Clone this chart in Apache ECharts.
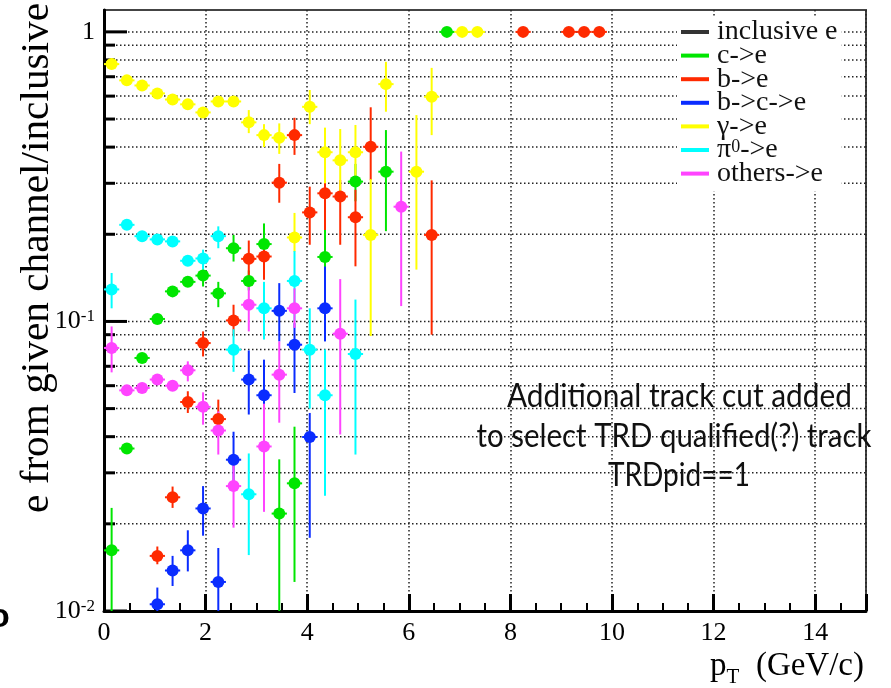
<!DOCTYPE html>
<html><head><meta charset="utf-8">
<script src="https://cdn.jsdelivr.net/npm/echarts@6/dist/echarts.min.js"></script>
<style>html,body{margin:0;padding:0;background:#fff}#c{width:891px;height:688px}</style>
</head><body><div id="c"></div><script>
// ---- data: [pT bin centre (GeV/c), ratio, lower error bound, upper error bound]
const ptHalfWidth = 0.15;
const xMin = 0, xMax = 15, yMin = 0.01, yMax = 1.19;
const yTickMajor = [0.01, 0.1, 1];
const yTickMinor = [0.02,0.03,0.04,0.05,0.06,0.07,0.08,0.09,0.2,0.3,0.4,0.5,0.6,0.7,0.8,0.9];

const cToE = [
 [0.15,0.0162,0.005,0.0227],[0.45,0.0364,0.0364,0.0364],[0.75,0.0748,0.0748,0.0748],
 [1.05,0.102,0.102,0.102],[1.35,0.127,0.127,0.127],[1.65,0.137,0.137,0.137],
 [1.95,0.144,0.132,0.151],[2.25,0.125,0.112,0.137],[2.55,0.179,0.161,0.199],
 [2.85,0.138,0.128,0.150],[3.15,0.185,0.160,0.218],[3.45,0.0217,0.005,0.0334],
 [3.75,0.0276,0.0126,0.0433],[4.35,0.167,0.13,0.21],[4.95,0.304,0.26,0.35],
 [5.55,0.329,0.205,0.458],[6.75,1,1,1]
];
const bToE = [
 [1.05,0.0155,0.0145,0.0167],[1.35,0.0247,0.0227,0.0269],[1.65,0.0527,0.0483,0.0574],
 [1.95,0.0842,0.0757,0.0924],[2.25,0.046,0.0437,0.0537],[2.55,0.1008,0.0888,0.1142],
 [2.85,0.1645,0.1393,0.1903],[3.15,0.1676,0.1393,0.1887],[3.45,0.3015,0.257,0.350],
 [3.75,0.440,0.376,0.505],[4.05,0.238,0.184,0.292],[4.35,0.277,0.207,0.304],
 [4.65,0.270,0.184,0.308],[4.95,0.229,0.155,0.285],[5.25,0.401,0.308,0.549],
 [6.45,0.199,0.090,0.307],[8.25,1,1,1],[9.15,1,1,1],[9.45,1,1,1],[9.75,1,1,1]
];
const bcToE = [
 [1.05,0.01055,0.008,0.01205],[1.35,0.0138,0.0122,0.0155],[1.65,0.0162,0.0137,0.0190],
 [1.95,0.0226,0.0182,0.0270],[2.25,0.0126,0.008,0.0165],[2.55,0.0333,0.0274,0.0416],
 [2.85,0.063,0.0477,0.0794],[3.15,0.0556,0.044,0.0738],[3.45,0.1088,0.0853,0.1356],
 [3.75,0.0831,0.0566,0.0987],[4.05,0.0399,0.0179,0.0483],[4.35,0.111,0.0853,0.1547]
];
const gammaToE = [
 [0.15,0.774,0.76,0.79],[0.45,0.680,0.67,0.69],[0.75,0.653,0.643,0.663],
 [1.05,0.613,0.603,0.623],[1.35,0.584,0.574,0.594],[1.65,0.562,0.552,0.572],
 [1.95,0.527,0.507,0.549],[2.25,0.575,0.565,0.585],[2.55,0.575,0.565,0.585],
 [2.85,0.487,0.447,0.537],[3.15,0.440,0.400,0.480],[3.45,0.431,0.379,0.483],
 [3.75,0.195,0.174,0.237],[4.05,0.551,0.48,0.63],[4.35,0.384,0.30,0.467],
 [4.65,0.360,0.263,0.462],[4.95,0.384,0.30,0.477],[5.25,0.199,0.089,0.31],
 [5.55,0.660,0.530,0.788],[6.15,0.329,0.151,0.516],[6.45,0.597,0.440,0.751],
 [7.05,1,1,1],[7.35,1,1,1]
];
const pi0ToE = [
 [0.15,0.129,0.111,0.147],[0.45,0.2156,0.21,0.22],[0.75,0.197,0.197,0.197],
 [1.05,0.192,0.192,0.192],[1.35,0.189,0.189,0.189],[1.65,0.162,0.162,0.162],
 [1.95,0.165,0.151,0.177],[2.25,0.197,0.179,0.213],[2.55,0.0799,0.067,0.094],
 [2.85,0.0253,0.0156,0.035],[3.15,0.111,0.0866,0.137],[3.75,0.138,0.10,0.175],
 [4.05,0.0799,0.05,0.111],[4.35,0.0556,0.025,0.08],[4.95,0.0772,0.0347,0.119]
];
const othersToE = [
 [0.15,0.081,0.0667,0.0961],[0.45,0.0578,0.0578,0.0578],[0.75,0.0589,0.0589,0.0589],
 [1.05,0.063,0.063,0.063],[1.35,0.060,0.060,0.060],[1.65,0.0678,0.0621,0.0728],
 [1.95,0.0507,0.044,0.0569],[2.25,0.042,0.0347,0.0489],[2.55,0.027,0.0194,0.0342],
 [2.85,0.1142,0.0924,0.1412],[3.15,0.037,0.022,0.052],[3.45,0.0655,0.0447,0.0853],
 [3.75,0.111,0.095,0.13],[4.65,0.0907,0.0407,0.140],[5.85,0.249,0.113,0.386]
];

const legendNames = ['inclusive e','c->e','b->e','b->c->e','γ->e','π⁰->e','others->e'];
const legendColors = ['#000000','#00e600','#ff2a00','#0a2cff','#ffff00','#00ffff','#ff44ff'];
const channelData = [null, cToE, bToE, bcToE, gammaToE, pi0ToE, othersToE];

const annotationLines = ['Additional track cut added','to select TRD qualified(?) track','TRDpid==1'];

const SERIF = "'Liberation Serif', 'Times New Roman', Tinos, serif";

// ---- helpers
function fitScale(text, font, target){
  const ctx = document.createElement('canvas').getContext('2d');
  ctx.font = font;
  const w = ctx.measureText(text).width;
  return w > 0 ? target / w : 1;
}

const chart = echarts.init(document.getElementById('c'), null, {renderer:'canvas'});

const series = [];
// grid lines + y ticks
series.push({
  type:'custom', name:'_grid', silent:true, z:1,
  data: yTickMinor.concat(yTickMajor).map(v => [xMin, v]),
  encode:{x:0, y:1},
  renderItem(params, api){
    const v = api.value(1);
    const a = api.coord([xMin, v]), b = api.coord([xMax, v]);
    const major = yTickMajor.indexOf(v) >= 0;
    const ch = [];
    if (v > yMin) ch.push({type:'line', shape:{x1:a[0], y1:a[1], x2:b[0], y2:b[1]},
      style:{stroke:'#222', lineWidth:1.5, lineDash:[1.5,2.5]}});
    ch.push({type:'line', shape:{x1:a[0], y1:a[1], x2:a[0] + (major ? 23 : 11), y2:a[1]},
      style:{stroke:'#000', lineWidth:3}});
    return {type:'group', children:ch};
  }
});
series.push({type:'scatter', name:'inclusive e', data:[], itemStyle:{color:'#000'}});

for (let i = 1; i < legendNames.length; i++) {
  const color = legendColors[i], data = channelData[i];
  series.push({
    type:'custom', name:legendNames[i], silent:true, z:3,
    itemStyle:{color},
    data, encode:{x:0, y:[1,2,3]},
    renderItem(params, api){
      const x = api.value(0), y = api.value(1);
      const lo = Math.max(api.value(2), yMin), hi = Math.min(api.value(3), yMax);
      const c = api.coord([x, y]), l = api.coord([x, lo]), h = api.coord([x, hi]);
      const xl = api.coord([x - ptHalfWidth, y]), xr = api.coord([x + ptHalfWidth, y]);
      const style = {stroke:color, lineWidth:2};
      return {type:'group', children:[
        {type:'line', shape:{x1:c[0], y1:l[1], x2:c[0], y2:h[1]}, style},
        {type:'line', shape:{x1:xl[0], y1:c[1], x2:xr[0], y2:c[1]}, style}
      ]};
    }
  });
  series.push({
    type:'scatter', name:legendNames[i], z:3, symbol:'circle', symbolSize:12,
    itemStyle:{color, opacity:1}, data, encode:{x:0, y:1}
  });
}

const annFont = '32px Lato';
const annTargets = [345, 395, 142];
const annY = [397, 436.5, 476];
const annX = [679.5, 674, 679];
const graphics = annotationLines.map((t, i) => ({
  type:'text', x:annX[i], y:annY[i], scaleX:fitScale(t, annFont, annTargets[i]), z:10,
  style:{text:t, font:annFont, fill:'#111', align:'center', verticalAlign:'middle'}
}));
const yTitle = 'e from given channel/inclusive';
const yTitleFont = '40px ' + SERIF;
graphics.push({
  type:'text', x:37, y:258, rotation:Math.PI/2,
  scaleX: fitScale(yTitle, yTitleFont, 510),
  style:{text:yTitle, font:yTitleFont, fill:'#000', align:'center', verticalAlign:'middle'}
});
graphics.push({
  type:'text', x:-11, y:618,
  style:{text:'o', font:'bold 34px "Liberation Sans", Arial, sans-serif', fill:'#000', align:'left', verticalAlign:'middle'}
});

const option = {
  animation:false,
  backgroundColor:'#fff',
  textStyle:{fontFamily:SERIF},
  grid:{left:104, right:25, top:10, bottom:77, show:true, borderColor:'#444', borderWidth:2, backgroundColor:'transparent'},
  xAxis:{
    type:'value', min:xMin, max:xMax, interval:2,
    axisLine:{onZero:false, lineStyle:{color:'#000', width:3}},
    axisTick:{inside:true, length:17, lineStyle:{color:'#000', width:3}},
    minorTick:{show:true, splitNumber:4, length:8, lineStyle:{color:'#000', width:2}},
    splitLine:{show:true, lineStyle:{color:'#222', width:1.5, type:[1.5,2.5]}},
    axisLabel:{fontFamily:SERIF, fontSize:26, color:'#000', margin:9, showMaxLabel:false},
    name:'{a|p}{b|T}{a|  (GeV/c)}', nameLocation:'end', nameGap:-2,
    nameTextStyle:{fontFamily:SERIF, align:'right', verticalAlign:'top', padding:[34,0,0,0],
      rich:{
        a:{fontFamily:SERIF, fontSize:33, color:'#000'},
        b:{fontFamily:SERIF, fontSize:21, color:'#000', verticalAlign:'bottom', padding:[22,0,0,0]}
      }}
  },
  yAxis:{
    type:'log', min:yMin, max:yMax, logBase:10,
    axisLine:{onZero:false, lineStyle:{color:'#000', width:3}},
    axisTick:{show:false},
    splitLine:{show:false},
    axisLabel:{
      customValues:yTickMajor, margin:9, color:'#000', fontFamily:SERIF,
      formatter:v => { const e = Math.round(Math.log10(v)); return e === 0 ? '{n|1}' : '{n|10}{s|' + e + '}'; },
      rich:{
        n:{fontFamily:SERIF, fontSize:26, color:'#000'},
        s:{fontFamily:SERIF, fontSize:17, color:'#000', verticalAlign:'top', padding:[0,0,8,0]}
      }
    }
  },
  legend:{
    orient:'vertical', left:677, top:17, padding:[1,4,4,4], itemGap:-4.4,
    itemWidth:28, itemHeight:4, backgroundColor:'#fff', selectedMode:false,
    data:legendNames.map((n, i) => ({name:n, icon:'rect', itemStyle:{color:legendColors[i]}})),
    formatter:n => n.replace('⁰', '{s|0}'),
    textStyle:{fontFamily:SERIF, fontSize:28, color:'#111', lineHeight:24, padding:[0,0,0,3],
      rich:{s:{fontFamily:SERIF, fontSize:18, color:'#111', verticalAlign:'top'}}}
  },
  graphic:graphics,
  series
};
chart.setOption(option);
</script></body></html>
